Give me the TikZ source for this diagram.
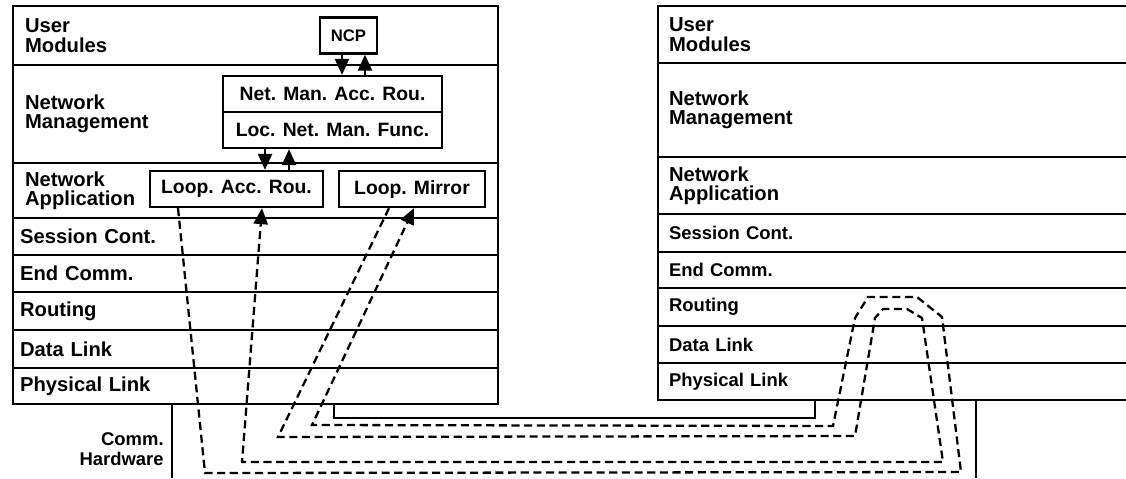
\documentclass[tikz,border=0pt]{standalone}
\usepackage{fontspec}
\setmainfont{Liberation Sans}
\usetikzlibrary{arrows.meta,positioning}

\tikzset{
    layer/.style={draw, line width=1.3pt, anchor=north west, text width=9.42cm,
        inner xsep=0.14cm, align=left, font=\fontsize{11.5pt}{11pt}\selectfont\bfseries},
    uplayer/.style={layer, text width=9.22cm, inner xsep=0.24cm},
    rlayer/.style={layer, text width=9.26cm, inner xsep=0.22cm},
    box/.style={draw, line width=1.3pt, fill=white, minimum height=0.72cm, inner sep=0pt,
        font=\fontsize{11pt}{12pt}\selectfont\bfseries},
    flow/.style={line width=1.3pt, -{Triangle[length=0.32cm, width=0.28cm]}},
    loopline/.style={line width=1.3pt, dash pattern=on 4.6pt off 2.6pt},
    cable/.style={line width=1.3pt}
}

\begin{document}
\begin{tikzpicture}[x=0.02cm, y=-0.02cm]
    \useasboundingbox (0,0) rectangle (1126,478);

    % Left node stack
    \node[uplayer, minimum height=1.18cm] (lum) at (12,5) {User\\Modules};
    \node[uplayer, minimum height=1.96cm] (lnm) at (12,64) {Network\\Management};
    \node[uplayer, minimum height=1.10cm] (lna) at (12,162) {Network\\Application};
    \node[layer, minimum height=0.74cm] (lsc) at (12,217) {Session Cont.};
    \node[layer, minimum height=0.74cm] (lec) at (12,254) {End Comm.};
    \node[layer, minimum height=0.76cm] (lro) at (12,291) {Routing};
    \node[layer, minimum height=0.76cm] (ldl) at (12,329) {Data Link};
    \node[layer, minimum height=0.72cm] (lpl) at (12,367) {Physical Link};

    % Right node stack
    \node[rlayer, minimum height=1.14cm] (rum) at (657,5) {User\\Modules};
    \node[rlayer, minimum height=1.88cm] (rnm) at (657,62) {Network\\Management};
    \node[rlayer, minimum height=1.14cm] (rna) at (657,156) {Network\\Application};
    \node[rlayer, minimum height=0.76cm, font=\fontsize{10.5pt}{11pt}\selectfont\bfseries] (rsc) at (657,213) {Session Cont.};
    \node[rlayer, minimum height=0.72cm, font=\fontsize{10.5pt}{11pt}\selectfont\bfseries] (rec) at (657,251) {End Comm.};
    \node[rlayer, minimum height=0.76cm, font=\fontsize{10.5pt}{11pt}\selectfont\bfseries] (rro) at (657,287) {Routing};
    \node[rlayer, minimum height=0.74cm, font=\fontsize{10.5pt}{11pt}\selectfont\bfseries] (rdl) at (657,325) {Data Link};
    \node[rlayer, minimum height=0.74cm, font=\fontsize{10.5pt}{11pt}\selectfont\bfseries] (rpl) at (657,362) {Physical Link};

    % Modules
    \node[box, minimum width=1.14cm, font=\fontsize{9.5pt}{10pt}\selectfont\bfseries] (ncp) at (348.5,35.5) {NCP};
    \node[box, minimum width=4.38cm] (nmar) at (332.5,94) {Net. Man. Acc. Rou.};
    \node[box, minimum width=4.38cm] (lnmf) at (332.5,130) {Loc. Net. Man. Func.};
    \node[box, minimum width=3.46cm] (lar) at (236.5,189) {Loop. Acc. Rou.};
    \node[box, minimum width=2.92cm] (lmir) at (412,189) {Loop. Mirror};

    % Calls between modules
    \draw[flow] ([xshift=-0.13cm]ncp.south) -- ([xshift=-0.13cm]ncp.south |- nmar.north);
    \draw[flow] ([xshift=0.33cm]ncp.south |- nmar.north) -- ([xshift=0.33cm]ncp.south);
    \draw[flow] ([xshift=-1.35cm]lnmf.south) -- ([xshift=-1.35cm]lnmf.south |- lar.north);
    \draw[flow] ([xshift=-0.87cm]lnmf.south |- lar.north) -- ([xshift=-0.87cm]lnmf.south);

    % Comm. hardware and cable
    \node[font=\fontsize{10.5pt}{11pt}\selectfont\bfseries, align=right, anchor=east,
          inner sep=0pt] (hw) at (164,449) {Comm.\\Hardware};
    \draw[cable] (172,403) -- (172,478);
    \draw[cable] (976,399) -- (976,478);
    \coordinate (cabl) at (334,403);
    \coordinate (cabr) at (815,399);
    \draw[cable] (cabl) -- ++(0,15) -| (cabr);

    % Loop paths
    \draw[loopline, flow] ([xshift=-1.17cm]lar.south) -- (205,473) -- (961,472)
        -- (942,317) -- (917,297) -- (868,297) -- (855,318) -- (833,426)
        -- (312,425) -- ([xshift=0.04cm]lmir.south);
    \draw[loopline, flow] ([xshift=-0.46cm]lmir.south) -- (278,437) -- (855,436)
        -- (875,318) -- (883,309) -- (907,309) -- (922,318) -- (943,462)
        -- (242,462) -- ([xshift=0.51cm]lar.south);
\end{tikzpicture}
\end{document}
